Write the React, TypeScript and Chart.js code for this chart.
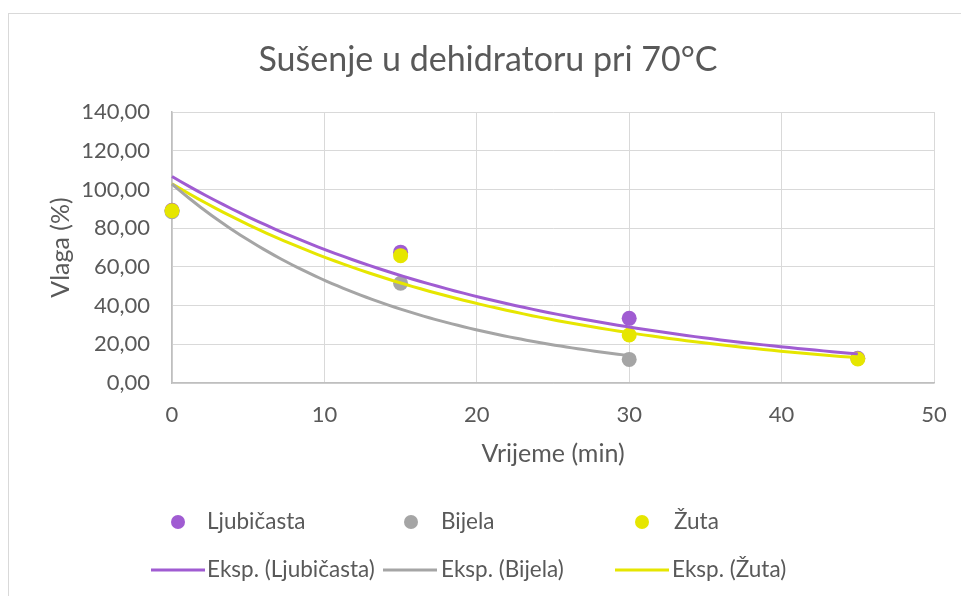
import React, { useEffect, useRef } from "react";
import { Chart, registerables } from "chart.js";

Chart.register(...registerables);

const chartTitle = "Sušenje u dehidratoru pri 70°C";
const xAxisTitle = "Vrijeme (min)";
const yAxisTitle = "Vlaga (%)";

const seriesNames = ["Ljubičasta", "Bijela", "Žuta"];
const seriesColors = ["#A05CD2", "#A5A5A5", "#E6E600"];
const trendPrefix = "Eksp.";

const timeLjubicasta = [0, 15, 30, 45];
const moistureLjubicasta = [89.2, 67.6, 33.4, 12.8];
const timeBijela = [0, 15, 30];
const moistureBijela = [88.5, 51.5, 12.2];
const timeZuta = [0, 15, 30, 45];
const moistureZuta = [89.0, 65.8, 24.8, 12.4];

const xMin = 0;
const xMax = 50;
const xStep = 10;
const yMin = 0;
const yMax = 140;
const yStep = 20;

const FONT = "Lato, 'Open Sans', sans-serif";
const TEXT = "#595959";
const GRID = "#D9D9D9";
const AXIS = "#BFBFBF";

type Pt = { x: number; y: number };

function toPoints(xs: number[], ys: number[]): Pt[] {
  return xs.map((x, i) => ({ x, y: ys[i] }));
}

// Exponential least-squares trendline (as Excel): y = A * e^(b x)
function expTrend(xs: number[], ys: number[], samples = 80): Pt[] {
  const n = xs.length;
  const ly = ys.map((v) => Math.log(v));
  const mx = xs.reduce((s, v) => s + v, 0) / n;
  const my = ly.reduce((s, v) => s + v, 0) / n;
  let sxy = 0;
  let sxx = 0;
  for (let i = 0; i < n; i++) {
    sxy += (xs[i] - mx) * (ly[i] - my);
    sxx += (xs[i] - mx) * (xs[i] - mx);
  }
  const b = sxy / sxx;
  const a = my - b * mx;
  const x0 = Math.min(...xs);
  const x1 = Math.max(...xs);
  const out: Pt[] = [];
  for (let i = 0; i <= samples; i++) {
    const x = x0 + ((x1 - x0) * i) / samples;
    out.push({ x, y: Math.exp(a + b * x) });
  }
  return out;
}

const fmt = (v: number) => v.toFixed(2).replace(".", ",");

const legendPlugin = {
  id: "excelLegend",
  afterDraw(chart: any) {
    const ctx = chart.ctx as CanvasRenderingContext2D;
    ctx.save();
    ctx.font = `22.5px ${FONT}`;
    ctx.fillStyle = TEXT;
    ctx.textBaseline = "middle";
    ctx.textAlign = "left";
    const row1Y = 508;
    const row2Y = 556;
    const dotX = [169, 402, 633];
    const text1X = [198, 432, 665];
    const lineX = [142, 374, 606];
    const lineW = 54;
    const text2X = [198, 432, 663];
    seriesNames.forEach((name, i) => {
      ctx.beginPath();
      ctx.fillStyle = seriesColors[i];
      ctx.arc(dotX[i], row1Y, 7, 0, Math.PI * 2);
      ctx.fill();
      ctx.fillStyle = TEXT;
      ctx.fillText(name, text1X[i], row1Y);

      ctx.beginPath();
      ctx.strokeStyle = seriesColors[i];
      ctx.lineWidth = 3;
      ctx.moveTo(lineX[i], row2Y);
      ctx.lineTo(lineX[i] + lineW, row2Y);
      ctx.stroke();
      ctx.fillText(`${trendPrefix} (${name})`, text2X[i], row2Y);
    });
    ctx.restore();
  },
};

export default function App() {
  const canvasRef = useRef<HTMLCanvasElement | null>(null);

  useEffect(() => {
    if (!canvasRef.current) return;
    const xsList = [timeLjubicasta, timeBijela, timeZuta];
    const ysList = [moistureLjubicasta, moistureBijela, moistureZuta];

    const trendSets = seriesNames.map((name, i) => ({
      label: `${trendPrefix} (${name})`,
      data: expTrend(xsList[i], ysList[i]),
      showLine: true,
      borderColor: seriesColors[i],
      backgroundColor: seriesColors[i],
      borderWidth: 3,
      pointRadius: 0,
      tension: 0,
      clip: false as any,
      order: i,
    }));
    const pointSets = seriesNames.map((name, i) => ({
      label: name,
      data: toPoints(xsList[i], ysList[i]),
      showLine: false,
      pointRadius: 7.5,
      pointBackgroundColor: seriesColors[i],
      pointBorderColor: seriesColors[i],
      pointBorderWidth: 0,
      backgroundColor: seriesColors[i],
      borderColor: seriesColors[i],
      clip: false as any,
      order: 10 - i,
    }));

    const chart = new Chart(canvasRef.current, {
      type: "scatter",
      data: { datasets: [...trendSets, ...pointSets] as any },
      plugins: [legendPlugin],
      options: {
        animation: false,
        responsive: false,
        layout: { padding: { left: 33, right: 27, top: 0, bottom: 123 } },
        plugins: {
          legend: { display: false },
          tooltip: { enabled: false },
          title: {
            display: true,
            text: chartTitle,
            color: TEXT,
            font: { family: FONT, size: 34, weight: "normal" },
            padding: { top: 25.6, bottom: 31.6 },
          },
        },
        scales: {
          x: {
            type: "linear",
            min: xMin,
            max: xMax,
            ticks: {
              stepSize: xStep,
              color: TEXT,
              font: { family: FONT, size: 22 },
              padding: 19,
            },
            grid: { color: GRID, lineWidth: 1, drawTicks: false },
            border: { color: AXIS, width: 1.5 },
            title: {
              display: true,
              text: xAxisTitle,
              color: TEXT,
              font: { family: FONT, size: 25 },
              padding: { top: 4, bottom: 4 },
            },
            afterFit: (s: any) => {
              s.height = 90;
              s.paddingLeft = 0;
              s.paddingRight = 0;
            },
          },
          y: {
            type: "linear",
            min: yMin,
            max: yMax,
            ticks: {
              stepSize: yStep,
              color: TEXT,
              font: { family: FONT, size: 22 },
              padding: 22,
              callback: (v: any) => fmt(Number(v)),
            },
            grid: { color: GRID, lineWidth: 1, drawTicks: false },
            border: { color: AXIS, width: 1.5 },
            title: {
              display: true,
              text: yAxisTitle,
              color: TEXT,
              font: { family: FONT, size: 25 },
              padding: { top: 4, bottom: 4 },
            },
            afterFit: (s: any) => {
              s.width = 130;
              s.paddingTop = 0;
              s.paddingBottom = 0;
            },
          },
        },
      } as any,
    });
    return () => chart.destroy();
  }, []);

  return (
    <div
      style={{
        position: "fixed",
        left: 8,
        top: 13,
        width: 953,
        height: 583,
        borderLeft: "1px solid #D9D9D9",
        borderTop: "1px solid #D9D9D9",
        background: "#FFFFFF",
        boxSizing: "border-box",
      }}
    >
      <canvas ref={canvasRef} width={952} height={582} style={{ display: "block" }} />
    </div>
  );
}
